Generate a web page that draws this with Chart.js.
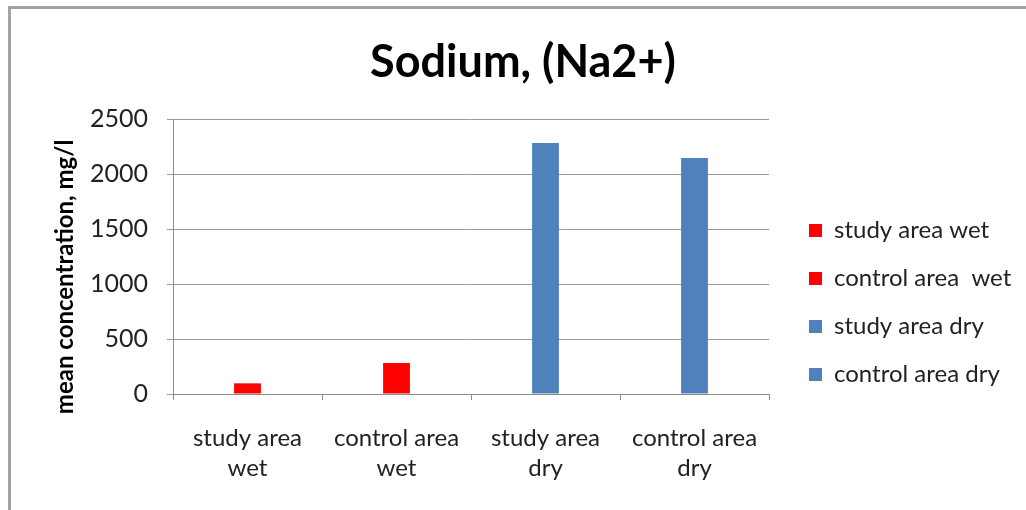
<!DOCTYPE html>
<html>
<head>
<meta charset="utf-8">
<script src="https://cdn.jsdelivr.net/npm/chart.js@4/dist/chart.umd.min.js"></script>
<style>
  body { margin: 0; background: #fff; }
  #wrap { position: relative; width: 1026px; height: 510px; }
  #frame {
    position: absolute; left: 8px; top: 6px; right: 0; bottom: 0;
    border-top: 3px solid #a3a3a3; border-left: 3px solid #a3a3a3;
    pointer-events: none;
  }
</style>
</head>
<body>
<div id="wrap">
  <canvas id="naChart" width="1026" height="510"></canvas>
  <div id="frame"></div>
</div>
<script>
// categories on the x axis (two lines each)
const categories = [
  ['study area', 'wet'],
  ['control area', 'wet'],
  ['study area', 'dry'],
  ['control area', 'dry']
];
// one series per category, as in the legend
const seriesNames = ['study area wet', 'control area  wet', 'study area dry', 'control area dry'];
const seriesValues = [97, 282, 2282, 2145];
const seriesColors = ['#ff0000', '#ff0000', '#4f81bd', '#4f81bd'];
const yTicks = [0, 500, 1000, 1500, 2000, 2500];

Chart.defaults.font.family = 'Lato';

// move legend right/down and re-center the title like the original
const nudgeBoxes = {
  id: 'nudgeBoxes',
  afterLayout(chart) {
    const lg = chart.legend;
    lg.left += 16;
    lg.right = chart.width;
    lg.width = lg.right - lg.left;
    lg.top += 46; lg.bottom += 46;
    const tb = chart.titleBlock;
    tb.left = 0;
    tb.right = 1046;
    tb.width = tb.right - tb.left;
  }
};

const datasets = seriesNames.map((name, i) => ({
  label: name,
  data: categories.map((c, j) => (j === i ? seriesValues[i] : null)),
  backgroundColor: seriesColors[i],
  borderWidth: 0
}));

new Chart(document.getElementById('naChart'), {
  type: 'bar',
  data: { labels: categories, datasets: datasets },
  options: {
    responsive: false,
    animation: false,
    layout: { padding: { top: 0, bottom: 4, left: 0, right: 77 } },
    datasets: { bar: { grouped: false, categoryPercentage: 1, barPercentage: 0.18 } },
    scales: {
      x: {
        offset: true,
        grid: { drawOnChartArea: false, drawTicks: true, tickLength: 6, color: '#8c8c8c', offset: true },
        border: { color: '#8c8c8c' },
        ticks: { padding: 23, color: '#222', font: { size: 24, lineHeight: 1.25 } }
      },
      y: {
        min: 0,
        max: 2500,
        afterBuildTicks(scale) { scale.ticks = yTicks.map(v => ({ value: v })); },
        afterFit(scale) { scale.width = 173; },
        grid: { color: '#9a9a9a', tickLength: 6 },
        border: { color: '#8c8c8c' },
        ticks: {
          padding: 19, color: '#222', font: { size: 25 },
          callback: v => String(v)
        },
        title: {
          display: true,
          text: 'mean concentration, mg/l       ',
          color: '#000',
          font: { size: 24, weight: 'bold', lineHeight: 1.2 },
          padding: { top: 51, bottom: 0 }
        }
      }
    },
    plugins: {
      title: {
        display: true,
        text: 'Sodium, (Na2+)',
        color: '#000',
        font: { size: 45, weight: 'bold', lineHeight: 1.2 },
        padding: { top: 35, bottom: 30 }
      },
      legend: {
        position: 'right',
        fullSize: false,
        maxWidth: 180,
        labels: { boxWidth: 13, boxHeight: 13, padding: 24, color: '#222', font: { size: 24 } }
      },
      tooltip: { enabled: false }
    }
  },
  plugins: [nudgeBoxes]
});
</script>
</body>
</html>
